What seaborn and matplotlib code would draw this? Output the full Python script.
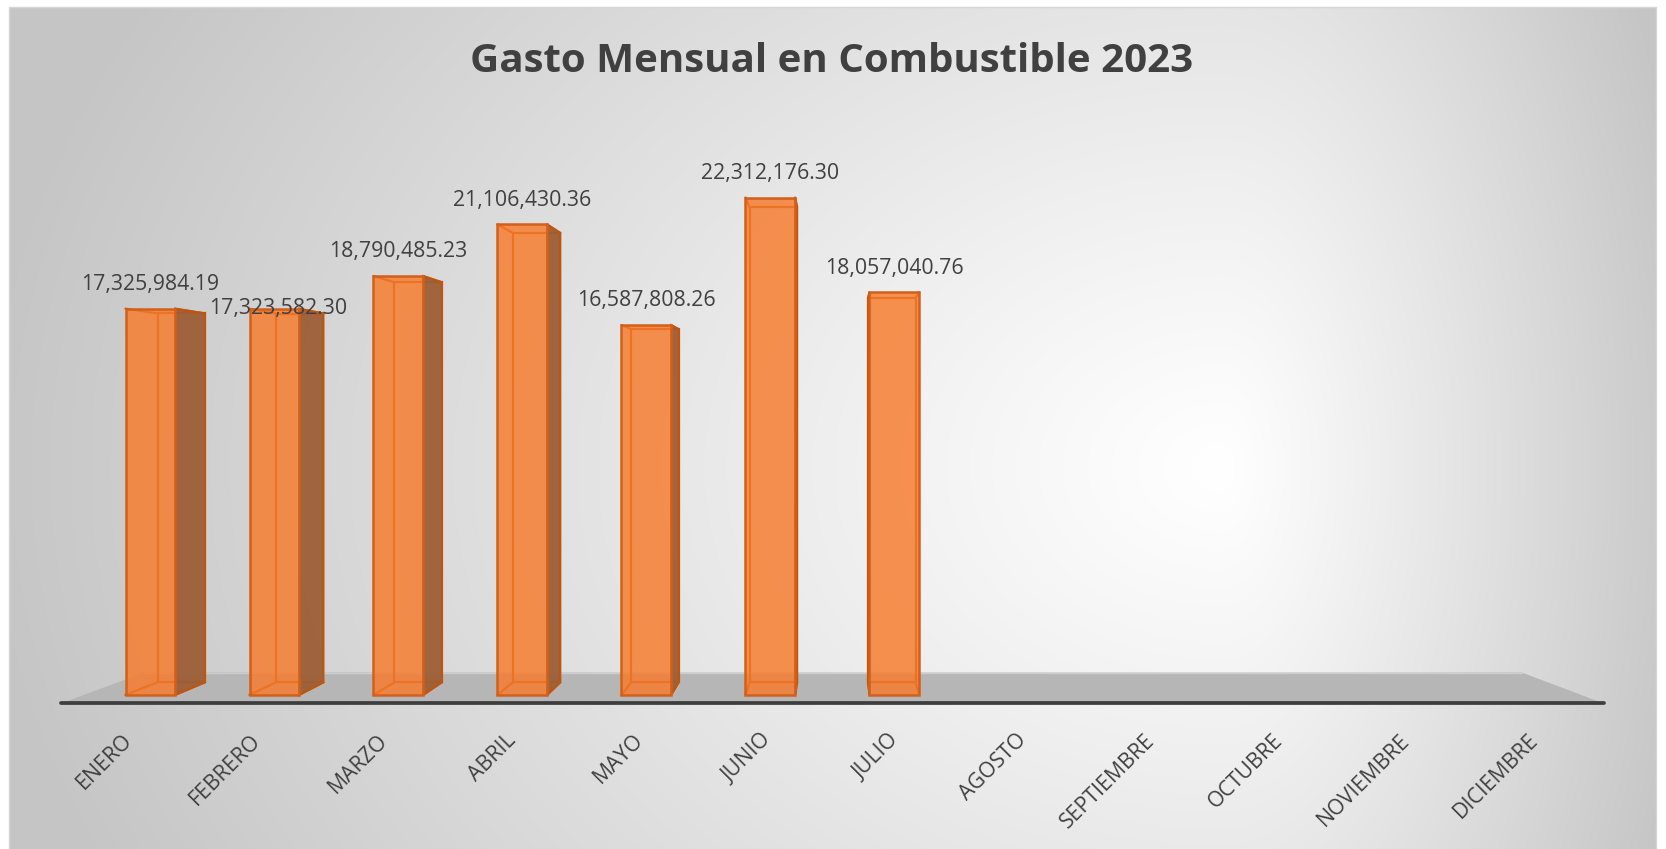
import numpy as np
import pandas as pd
import matplotlib
matplotlib.use('Agg')
import matplotlib.pyplot as plt
import seaborn as sns
from matplotlib.patches import Polygon, Rectangle

# datos
meses = ['ENERO', 'FEBRERO', 'MARZO', 'ABRIL', 'MAYO', 'JUNIO', 'JULIO',
         'AGOSTO', 'SEPTIEMBRE', 'OCTUBRE', 'NOVIEMBRE', 'DICIEMBRE']
gasto = [17325984.19, 17323582.30, 18790485.23, 21106430.36,
         16587808.26, 22312176.30, 18057040.76]
titulo = 'Gasto Mensual en Combustible 2023'

df = pd.DataFrame({'mes': meses[:len(gasto)], 'gasto': gasto})

sns.set_theme(style='white')
plt.rcParams['font.family'] = ['Open Sans', 'DejaVu Sans']

# perspectiva (coordenadas de datos)
VX, VY = 5.557, 12.586e6      # punto de fuga
PROF_BARRA = 0.045            # profundidad de cada columna
PROF_PISO = 0.1066            # profundidad del piso
PLANO_BARRA = 0.0294          # plano frontal de las columnas respecto al piso
PISO_Y = -0.381e6
PISO_X = (-0.72, 11.72)


def fondo(px, py, t):
    return px + t * (VX - px), py + t * (VY - py)


W, H = 1666, 849
fig = plt.figure(figsize=(W / 100, H / 100), dpi=100)

# fondo degradado radial
bg = fig.add_axes([0, 0, 1, 1])
bg.set_axis_off()
yy, xx = np.mgrid[0:H, 0:W]
dx = xx - 1222.0
rx = np.where(dx < 0, 1250.0, 480.0)
d = np.sqrt((dx / rx) ** 2 + ((yy - 467.0) / 950.0) ** 2)
g = (255 - 58 * np.clip(d, 0, 1) ** 1.1) / 255.0
dentro = (xx >= 9) & (xx <= 1656) & (yy >= 7)
g = np.where(dentro, g, 1.0)
bg.imshow(np.dstack([g, g, g]), extent=(0, W, H, 0), aspect='auto', interpolation='bilinear')
bg.add_patch(Rectangle((9, 7), 1647, 850, fill=False, ec='#d6d6d6', lw=1))
bg.set_xlim(0, W)
bg.set_ylim(H, 0)

ax = fig.add_axes([0, 0, 1, 1])
ax.patch.set_alpha(0)

sns.barplot(data=df, x='mes', y='gasto', order=meses, width=0.4, ax=ax,
            color='#fa7d2e', saturation=1, edgecolor='#d2601a', linewidth=1.8,
            zorder=4)

# piso
fx0, fx1 = PISO_X
bx0, by0 = fondo(fx0, PISO_Y, PROF_PISO)
bx1, by1 = fondo(fx1, PISO_Y, PROF_PISO)
ax.add_patch(Polygon([(fx0, PISO_Y), (fx1, PISO_Y), (bx1, by1), (bx0, by0)],
                     closed=True, fc='#b6b6b6', ec='none', zorder=1))
ax.plot([bx0, bx1], [by0, by1], color='#cdcdcd', lw=1, zorder=1.2)
ax.plot([fx0, fx1], [PISO_Y, PISO_Y], color='#3d3d3d', lw=2.7,
        solid_capstyle='round', zorder=1.5)

# caras en 3D de cada columna
for bar in ax.patches:
    if not isinstance(bar, Rectangle) or bar.get_height() == 0:
        continue
    x, w, h = bar.get_x(), bar.get_width(), bar.get_height()
    bar.set_facecolor((0.97, 0.48, 0.17, 0.82))
    fr = [(x, 0), (x + w, 0), (x + w, h), (x, h)]
    bk = [fondo(px, py, PROF_BARRA) for px, py in fr]
    # aristas traseras vistas a traves de la cara frontal
    ax.add_patch(Polygon(bk, closed=True, fill=False, ec='#c8500a', lw=1.6, zorder=2.8))
    for p, q in zip(fr, bk):
        ax.plot([p[0], q[0]], [p[1], q[1]], color='#c8500a', lw=1.6, zorder=2.8)
    if bk[1][0] > fr[1][0]:
        lado = [fr[1], fr[2], bk[2], bk[1]]
        ax.add_patch(Polygon(lado, closed=True, fc='#9d5e36', ec='#c0560f',
                             lw=1.5, alpha=0.95, zorder=3))
    if bk[0][0] < fr[0][0]:
        lado = [fr[0], fr[3], bk[3], bk[0]]
        ax.add_patch(Polygon(lado, closed=True, fc='#9d5e36', ec='#c0560f',
                             lw=1.5, alpha=0.95, zorder=3))

# etiquetas de datos
desplaza = {'FEBRERO': (3, 0)}
for mes, v, bar in zip(df['mes'], df['gasto'], ax.patches):
    cx = bar.get_x() + bar.get_width() / 2
    ax.annotate(f'{v:,.2f}', xy=(cx, v), xytext=desplaza.get(mes, (0, 17.5)),
                textcoords='offset points', ha='center', va='center',
                fontsize=15.3, color='#404040', zorder=6)

# etiquetas del eje
for i, mes in enumerate(meses):
    x0 = (i - PLANO_BARRA * VX) / (1 - PLANO_BARRA)
    ax.text(x0, -1.90e6, mes, rotation=45, rotation_mode='anchor',
            ha='right', va='center', fontsize=15.3, color='#404040', zorder=6)

ax.set_xlim(-1.2121, 12.2234)
ax.set_ylim(-6.913e6, 31.175e6)
ax.set_axis_off()

fig.text(832 / W, 1 - 62 / H, titulo, ha='center', va='center',
         fontsize=29, fontweight='bold', color='#404040')

fig.savefig('out.png', dpi=100)
